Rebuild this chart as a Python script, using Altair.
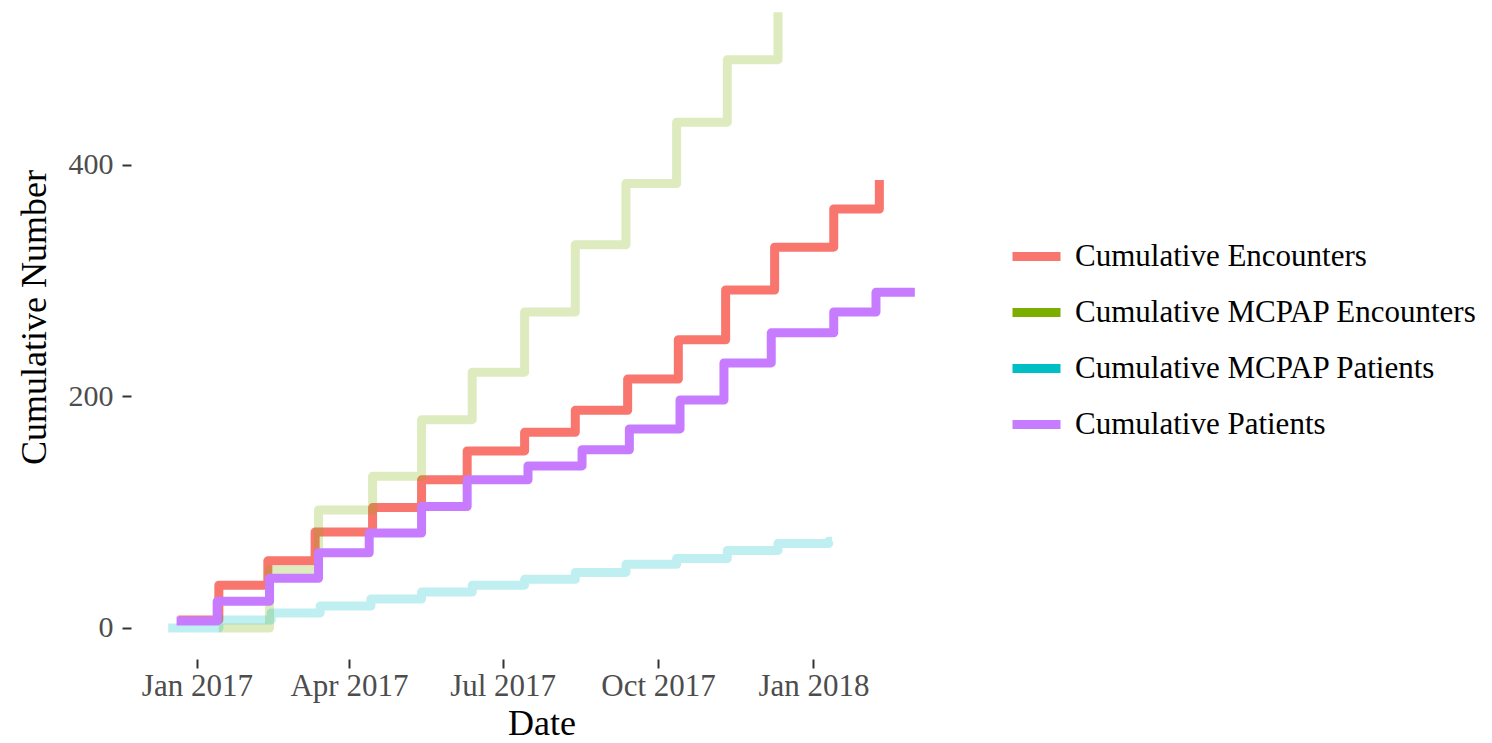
import altair as alt
import pandas as pd

# ---- data ----
series_names = [
    "Cumulative Encounters",
    "Cumulative MCPAP Encounters",
    "Cumulative MCPAP Patients",
    "Cumulative Patients",
]
series_colors = ["#F8766D", "#7CAE00", "#00BFC4", "#C77CFF"]
faded_series = ["Cumulative MCPAP Encounters", "Cumulative MCPAP Patients"]

enc_dates = ["2016-12-21", "2017-01-14", "2017-02-12", "2017-03-12", "2017-04-15",
             "2017-05-14", "2017-06-10", "2017-07-14", "2017-08-13", "2017-09-13",
             "2017-10-13", "2017-11-10", "2017-12-09", "2018-01-13", "2018-02-09"]
enc_vals = [7, 37, 58, 83, 104, 128, 153, 169, 188, 215, 249, 292, 329, 362, 387]

mcpap_enc_dates = ["2017-01-14", "2017-02-13", "2017-03-14", "2017-04-15", "2017-05-14",
                   "2017-06-13", "2017-07-14", "2017-08-13", "2017-09-12", "2017-10-12",
                   "2017-11-11", "2017-12-11"]
mcpap_enc_vals = [0, 50, 102, 131, 180, 221, 273, 331, 384, 437, 491, 532]

mcpap_pat_dates = ["2016-12-15", "2017-01-14", "2017-02-14", "2017-03-15", "2017-04-14",
                   "2017-05-14", "2017-06-13", "2017-07-14", "2017-08-13", "2017-09-12",
                   "2017-10-12", "2017-11-11", "2017-12-11", "2018-01-10", "2018-01-12"]
mcpap_pat_vals = [0, 7, 13, 19, 25, 31, 37, 42, 48, 55, 60, 67, 73, 75, 75]

pat_dates = ["2016-12-20", "2017-01-13", "2017-02-13", "2017-03-14", "2017-04-13",
             "2017-05-14", "2017-06-10", "2017-07-16", "2017-08-17", "2017-09-14",
             "2017-10-14", "2017-11-09", "2017-12-07", "2018-01-13", "2018-02-07",
             "2018-03-02"]
pat_vals = [6, 23, 43, 65, 82, 105, 128, 140, 154, 172, 197, 229, 255, 273, 290, 290]

y_ticks = [0, 200, 400]

# ---- build table ----
rows = []
for name, dates, vals in zip(series_names,
                             [enc_dates, mcpap_enc_dates, mcpap_pat_dates, pat_dates],
                             [enc_vals, mcpap_enc_vals, mcpap_pat_vals, pat_vals]):
    for d, v in zip(dates, vals):
        rows.append({"series": name, "date": d, "value": v})
df = pd.DataFrame(rows)

FONT = "Liberation Serif"

def dt(y, m, d):
    return alt.DateTime(year=y, month=m, date=d, utc=True)

x_ticks = [dt(2017, 1, 1), dt(2017, 4, 1), dt(2017, 7, 1), dt(2017, 10, 1), dt(2018, 1, 1)]

chart = alt.Chart(df).mark_line(
    interpolate="step-after", strokeWidth=9, strokeCap="butt", strokeJoin="round"
).encode(
    x=alt.X("date:T",
            scale=alt.Scale(type="utc", domain=[dt(2016, 11, 23), dt(2018, 3, 24)], nice=False),
            axis=alt.Axis(values=x_ticks, format="%b %Y", title="Date",
                          grid=False, domain=False,
                          tickColor="#333333", tickWidth=2, tickSize=9,
                          labelFont=FONT, labelFontSize=31, labelColor="#4D4D4D",
                          labelPadding=3,
                          titleFont=FONT, titleFontSize=36, titleFontWeight="normal",
                          titleColor="black", titleY=64, titleBaseline="middle")),
    y=alt.Y("value:Q",
            scale=alt.Scale(domain=[-26.8, 533.9], nice=False, zero=False),
            axis=alt.Axis(values=y_ticks, title="Cumulative Number",
                          grid=False, domain=False,
                          tickColor="#333333", tickWidth=2, tickSize=9,
                          labelFont=FONT, labelFontSize=30, labelColor="#4D4D4D",
                          labelPadding=9,
                          titleFont=FONT, titleFontSize=36, titleFontWeight="normal",
                          titleColor="black", titleX=-97, titleY=307,
                          titleAngle=270, titleAlign="center", titleBaseline="middle")),
    color=alt.Color("series:N",
                    scale=alt.Scale(domain=series_names, range=series_colors),
                    legend=alt.Legend(title=None, orient="none", legendX=877, legendY=218,
                                      symbolType="stroke", symbolSize=2304,
                                      symbolStrokeWidth=9, symbolOpacity=1,
                                      labelFont=FONT, labelFontSize=31, labelColor="black",
                                      labelLimit=0, labelOffset=10, rowPadding=9,
                                      padding=0)),
    opacity=alt.condition(
        alt.FieldOneOfPredicate(field="series", oneOf=faded_series),
        alt.value(0.25), alt.value(1.0)),
).properties(
    width=821, height=649,
    background="white",
    autosize=alt.AutoSizeParams(type="none"),
    padding={"left": 123, "top": 2, "right": 532, "bottom": 84},
).configure_view(stroke=None)

chart.save("out.html", embed_options={"renderer": "svg", "actions": False})
